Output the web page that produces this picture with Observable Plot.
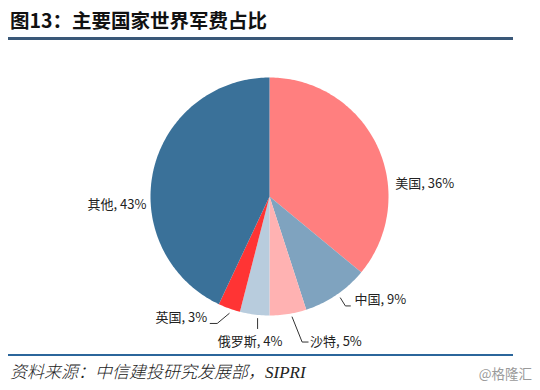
<!DOCTYPE html>
<html>
<head>
<meta charset="utf-8">
<script src="https://cdn.jsdelivr.net/npm/d3@7"></script>
<script src="https://cdn.jsdelivr.net/npm/@observablehq/plot@0.6"></script>
<style>
  body { margin:0; width:540px; height:390px; position:relative; background:#fff; font-family:"Noto Sans CJK SC", sans-serif; overflow:hidden; }
  #title { position:absolute; left:10px; top:7px; font-size:19.5px; font-weight:bold; color:#111; line-height:26px; white-space:nowrap; }
  #rule1 { position:absolute; left:8px; top:37px; width:505px; height:3px; background:#3A5878; }
  #chart { position:absolute; left:0; top:42px; }
  #rule2 { position:absolute; left:8px; top:354px; width:505px; height:2px; background:#2B669B; }
  #source { position:absolute; left:10px; top:362px; font-size:17px; line-height:22px; font-style:italic; font-weight:300; color:#222; white-space:nowrap; font-family:"Liberation Serif","Noto Sans CJK SC",serif; }
  #mark { position:absolute; right:8px; top:365px; font-size:13.5px; line-height:16px; color:#9a9a9a; white-space:nowrap; }
</style>
</head>
<body>
<div id="title">图13：主要国家世界军费占比</div>
<div id="rule1"></div>
<div id="chart"></div>
<div id="rule2"></div>
<div id="source">资料来源：中信建投研究发展部，SIPRI</div>
<div id="mark">@格隆汇</div>
<script>
// ---- data ----
const countries = ["美国", "中国", "沙特", "俄罗斯", "英国", "其他"];
const shares = [36, 9, 5, 4, 3, 43];
const sliceColors = ["#FF7F7F", "#7FA3BF", "#FFB2B2", "#B8CCDD", "#FF3434", "#3A7199"];

// ---- label layout (pixel offsets from slice mid-angle edge) ----
const R = 119; // pie radius in px
const labelLayout = {
  "美国":   {dx: 18,  dy: 38, anchor: "start",  leader: null},
  "中国":   {dx: 18,  dy: 5,  anchor: "start",  leader: [[4,3],[9,11],[14,11]]},
  "沙特":   {dx: 22,  dy: 28, anchor: "start",  leader: [[4,3],[14,28],[20,28]]},
  "俄罗斯": {dx: -4.5,dy: 27, anchor: "middle", leader: [[3,4],[3,14]]},
  "英国":   {dx: -22, dy: 9,  anchor: "end",    leader: [[0,5],[-12,15],[-19,15]]},
  "其他":   {dx: -7,  dy: 34, anchor: "end",    leader: null}
};

// ---- geometry from data ----
const total = d3.sum(shares);
const slicePts = [];
const labels = [];
const leaders = [];
let cum = 0;
countries.forEach((name, i) => {
  const a0 = cum / total * 2 * Math.PI;
  cum += shares[i];
  const a1 = cum / total * 2 * Math.PI;
  const n = Math.max(2, Math.ceil((a1 - a0) / (Math.PI / 180)));
  slicePts.push({name, x: 0, y: 0});
  for (let k = 0; k <= n; k++) {
    const a = a0 + (a1 - a0) * k / n;
    slicePts.push({name, x: Math.sin(a), y: Math.cos(a)});
  }
  slicePts.push({name, x: 0, y: 0});
  const am = (a0 + a1) / 2;
  const ex = Math.sin(am), ey = Math.cos(am);
  const L = labelLayout[name];
  labels.push({name, anchor: L.anchor, text: `${name}, ${shares[i]}%`, x: ex + L.dx / R, y: ey - L.dy / R});
  if (L.leader) L.leader.forEach(([px, py]) => leaders.push({name, x: ex + px / R, y: ey - py / R}));
});

const textOpts = {x: "x", y: "y", text: "text", fontSize: 13, fill: "#222", fontFamily: "Noto Sans CJK SC"};

const chart = Plot.plot({
  width: 540,
  height: 310,
  x: {domain: [-1, 1], range: [150, 388], axis: null},
  y: {domain: [-1, 1], range: [273, 35], axis: null},
  color: {domain: countries, range: sliceColors},
  style: {fontFamily: "Noto Sans CJK SC", background: "transparent"},
  marks: [
    Plot.line(slicePts, {x: "x", y: "y", z: "name", fill: "name", stroke: "none", curve: "linear"}),
    Plot.line(leaders, {x: "x", y: "y", z: "name", stroke: "#333", strokeWidth: 1}),
    Plot.text(labels.filter(d => d.anchor === "start"), {...textOpts, textAnchor: "start"}),
    Plot.text(labels.filter(d => d.anchor === "middle"), {...textOpts, textAnchor: "middle"}),
    Plot.text(labels.filter(d => d.anchor === "end"), {...textOpts, textAnchor: "end"})
  ]
});
document.getElementById("chart").appendChild(chart);
</script>
</body>
</html>
